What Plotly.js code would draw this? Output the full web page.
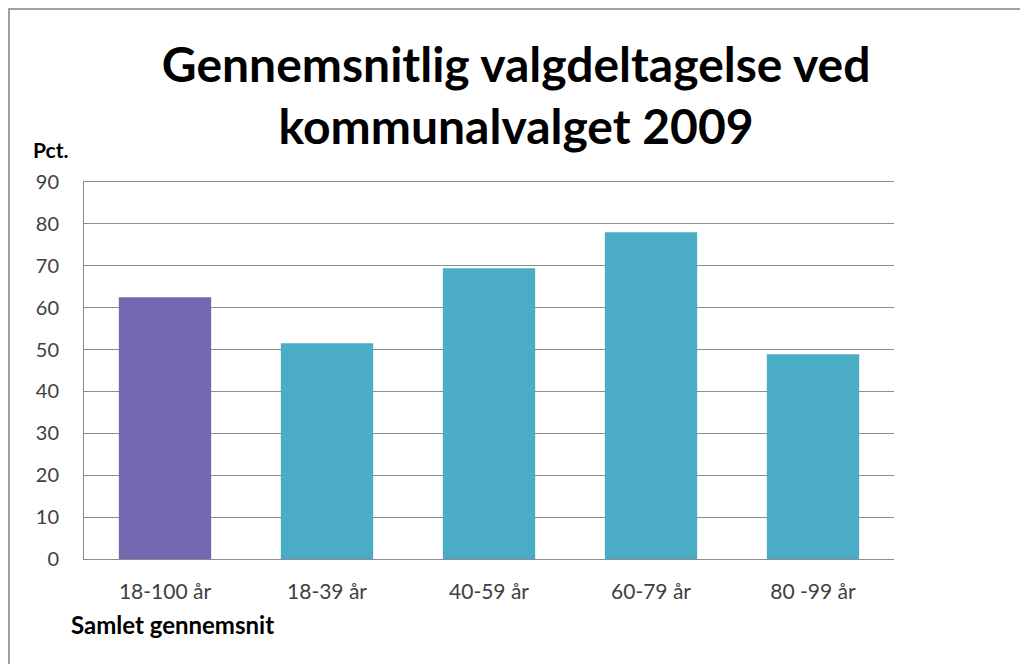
<!DOCTYPE html>
<html>
<head>
<meta charset="utf-8">
<script src="https://cdn.plot.ly/plotly-3.0.1.min.js"></script>
<style>
html,body{margin:0;padding:0;background:#fff;overflow:hidden;}
#wrap{position:relative;width:1020px;height:664px;}
#chart{width:1020px;height:664px;}
#frame{position:absolute;left:8px;top:8px;width:1040px;height:700px;border-left:2px solid #a0a0a0;border-top:2px solid #a0a0a0;pointer-events:none;}
</style>
</head>
<body>
<div id="wrap">
<div id="chart"></div>
<div id="frame"></div>
</div>
<script>
const categories = ["18-100 år", "18-39 år", "40-59 år", "60-79 år", "80 -99 år"];
const values = [62.5, 51.5, 69.4, 78.0, 48.9];
const barColors = ["#7468B0", "#4BACC6", "#4BACC6", "#4BACC6", "#4BACC6"];
const yTicks = [0, 10, 20, 30, 40, 50, 60, 70, 80, 90];

const font = "Lato, 'Open Sans', sans-serif";

const trace = {
  type: "bar",
  x: categories,
  y: values,
  marker: {color: barColors, line: {width: 0}},
  hoverinfo: "x+y"
};

const layout = {
  width: 1020, height: 664,
  paper_bgcolor: "#ffffff", plot_bgcolor: "#ffffff",
  margin: {l: 84, r: 126, t: 182, b: 105},
  bargap: 0.43,
  showlegend: false,
  font: {family: font, color: "#404040", size: 20},
  title: {
    text: "<b>Gennemsnitlig valgdeltagelse ved<br>kommunalvalget 2009</b>",
    font: {family: font, size: 48, color: "#000000"},
    x: 0.506, xanchor: "center", xref: "container",
    y: 0.877, yanchor: "middle", yref: "container"
  },
  xaxis: {
    type: "category",
    showgrid: false,
    showline: true, mirror: true, linecolor: "#8c8c8c", linewidth: 1,
    ticks: "", ticklabelstandoff: 14,
    tickfont: {family: font, size: 21, color: "#404040"},
    fixedrange: true
  },
  yaxis: {
    range: [0, 90],
    tickvals: yTicks,
    ticktext: yTicks.map(String),
    showgrid: true, gridcolor: "#8c8c8c", gridwidth: 1,
    showline: true, linecolor: "#8c8c8c", linewidth: 1,
    zeroline: false,
    ticks: "", ticklabelstandoff: 20,
    tickfont: {family: font, size: 20, color: "#404040"},
    fixedrange: true
  },
  annotations: [
    {text: "<b>Pct.</b>", xref: "paper", yref: "paper", x: -0.065, y: 1.085,
     xanchor: "left", yanchor: "middle", showarrow: false,
     font: {family: font, size: 21, color: "#000000"}},
    {text: "<b>Samlet gennemsnit</b>", xref: "paper", yref: "paper", x: -0.018, y: -0.175,
     xanchor: "left", yanchor: "middle", showarrow: false,
     font: {family: font, size: 24, color: "#000000"}}
  ]
};

Plotly.newPlot("chart", [trace], layout, {displayModeBar: false, staticPlot: true});
</script>
</body>
</html>
